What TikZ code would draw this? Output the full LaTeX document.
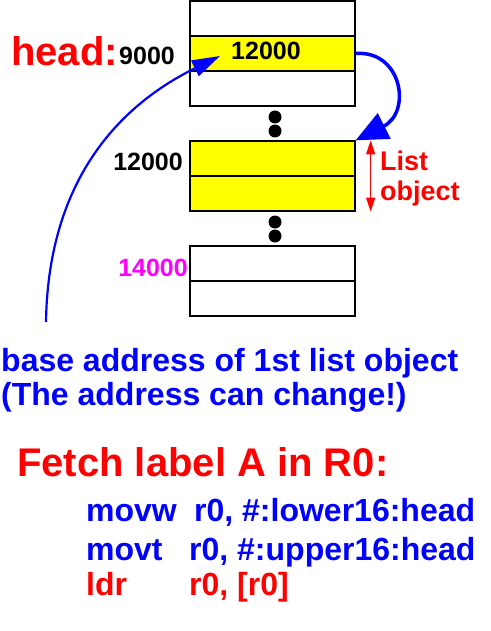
\documentclass[tikz,border=0pt]{standalone}
\usepackage{fontspec}
\setmainfont{Liberation Sans}
\usetikzlibrary{arrows.meta,positioning,calc}
\definecolor{hot}{RGB}{255,0,0}
\definecolor{ink}{RGB}{0,0,255}
\definecolor{hilite}{RGB}{255,255,0}
\definecolor{pink}{RGB}{255,0,255}
\tikzset{cell/.style={draw=black,line width=1.3pt,minimum width=165pt,minimum height=35pt,inner sep=0pt},num/.style={font=\bfseries\fontsize{25}{30}\selectfont,inner sep=0pt},big/.style={font=\bfseries\fontsize{40}{48}\selectfont,inner sep=0pt,text=hot},note/.style={font=\bfseries\fontsize{32}{38}\selectfont,inner sep=0pt,text=ink,anchor=base west},ptr/.style={draw=ink},span/.style={{Triangle[length=14pt,width=9pt]}-{Triangle[length=14pt,width=9pt]},draw=hot,line width=1.2pt}}
\begin{document}
\begin{tikzpicture}[x=1pt,y=-1pt]
\useasboundingbox (0,0) rectangle (490,631);
% memory cells
\foreach \nm/\yy/\fc in {a1/18.5/white,a2/53.5/hilite,a3/88.5/white,b1/158.5/hilite,b2/193.5/hilite,c1/263.5/white,c2/298.5/white}
  \node[cell,fill=\fc] (\nm) at (272.5,\yy) {};
\foreach \yy in {117,131,222,236}{\fill (275,\yy) circle (6.5);}
% addresses
\node[big,anchor=base west] (hd) at (11,66) {head:};
\node[num,anchor=base west] (adr0) at (119,65) {9000};
\node[num,anchor=base west] (val) at (231,60) {12000};
\node[num,anchor=base east] (adr1) at (183,171) {12000};
\node[num,anchor=base east,text=pink] (adr2) at (188,276) {14000};
\node[num,anchor=base west,text=hot,font=\bfseries\fontsize{27}{32}\selectfont] (lst) at (380,171) {List};
\node[num,anchor=base west,text=hot,font=\bfseries\fontsize{27}{32}\selectfont] (obj) at (380,200) {object};
\draw[span] ([xshift=15pt]b1.north east) -- ([xshift=15pt]b2.south east);
% pointers
\draw[ptr,line width=3.5pt,-{Triangle[length=32pt,width=28pt]}] (a2.east) .. controls (402,50) and (412,112) .. (b1.north east);
\node[note] (base) at (1,371) {base address of 1st list object};
\node[note] (chg) at (1,405) {(The address can change!)};
\coordinate (tail) at (46,322);
\coordinate (tip) at (220,56);
\draw[ptr,line width=2.2pt,-{Triangle[length=28pt,width=17pt]}] (tail) .. controls (48,190) and (110,110) .. (tip);
% code
\node[big,anchor=base west] (fetch) at (17,476) {Fetch label A in R0:};
\node[note] (op1) at (86,521) {movw};
\node[note] (arg1) at (194,521) {r0, \#:lower16:head};
\node[note] (op2) at (86,560) {movt};
\node[note] (arg2) at (189,560) {r0, \#:upper16:head};
\node[note,text=hot] (op3) at (86,595) {ldr};
\node[note,text=hot] (arg3) at (189,595) {r0, [r0]};
\end{tikzpicture}
\end{document}
